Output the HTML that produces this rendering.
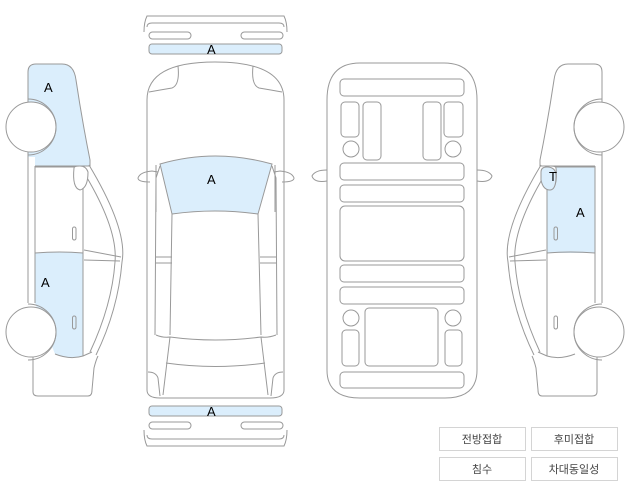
<!DOCTYPE html>
<html><head><meta charset="utf-8"><style>
html,body{margin:0;padding:0;background:#fff;width:630px;height:498px;overflow:hidden}
svg{display:block}
text{font-family:"Liberation Sans",sans-serif;font-size:13px;fill:#000}
.k{font-family:"Liberation Sans","Noto Sans CJK KR",sans-serif;font-size:11px;fill:#444}
</style></head><body>
<svg width="630" height="498" viewBox="0 0 630 498" xmlns="http://www.w3.org/2000/svg">
<defs>
<g id="side" fill="none" stroke="#999" stroke-width="1">
  <!-- front panel outline -->
  <path d="M28,157 L28,72 Q28,64 36,64 L62,64 Q74,64 76,80 Q82,120 90,160 L90,166 L35,166"/>
  <!-- wheels -->
  <circle cx="31" cy="127" r="25" fill="#fff"/>
  <path d="M28,99 A28,28 0 0 1 28,155"/>
  <circle cx="31" cy="332" r="25" fill="#fff"/>
  <path d="M28,304 A28,28 0 0 1 28,360"/>
  <!-- door strip -->
  <path d="M28,157 L28,303 M35,166 L35,303"/>
  <!-- middle panels -->
  <path d="M35,167 L83,167 L83,356 M35,253 Q60,251 83,253"/>
  <path d="M55,354 Q70,360 83,356 L92,352"/>
  <!-- pillar curves -->
  <path d="M89,165 Q128,230 122,262 Q118,310 96,355"/>
  <path d="M86,176 Q118,230 115,262 Q112,305 90,352"/>
  <path d="M84,250 L121,257 M84,260 L120,261"/>
  <!-- mirror -->
  <path d="M74,168 Q72,188 80,190 Q88,188 88,172 Q86,166 80,166 Q74,166 74,168 Z" fill="#fff"/>
  <!-- handles -->
  <rect x="72.5" y="227" width="3.5" height="13" rx="1.7"/>
  <rect x="72.5" y="316" width="3.5" height="13" rx="1.7"/>
  <!-- rear panel -->
  <path d="M33,357 L33,392 Q33,396 38,396 L88,396 Q92,396 92,390 L94,368 Q96,360 98,356"/>
</g>
</defs>

<!-- LEFT SIDE fills -->
<path d="M28,157 L28,72 Q28,64 36,64 L62,64 Q74,64 76,80 Q82,120 90,160 L90,166 L35,166 L35,157 Z" fill="#dbeefc"/>
<path d="M35,253 Q60,251 83,253 L83,356 Q70,360 55,354 L35,303 Z" fill="#dbeefc"/>
<use href="#side"/>
<text x="44" y="92">A</text>
<text x="41" y="287">A</text>

<!-- RIGHT SIDE fills -->
<rect x="547" y="167" width="48" height="86" fill="#dbeefc"/>
<g transform="translate(630,0) scale(-1,1)"><use href="#side"/></g>
<path d="M541,172 Q541,167 547,167 Q556,167 556,176 Q556,190 550,190 Q543,190 541,180 Z" fill="#dbeefc" stroke="#999"/>
<text x="549" y="181">T</text>
<text x="576" y="217">A</text>

<!-- TOP BUMPER -->
<g fill="none" stroke="#999">
<path d="M144,32 Q144,22 147,16 L284,16 Q287,22 287,32 M147,27 Q147,23 152,23 L279,23 Q284,23 284,27"/>
<rect x="149" y="32" width="42" height="7" rx="3.5"/>
<rect x="241" y="32" width="42" height="7" rx="3.5"/>
<rect x="149" y="44" width="133" height="10" rx="3" fill="#dbeefc"/>
</g>
<text x="207" y="54">A</text>

<!-- BOTTOM BUMPER -->
<g fill="none" stroke="#999">
<rect x="149" y="406" width="133" height="10" rx="3" fill="#dbeefc"/>
<rect x="149" y="422" width="42" height="7" rx="3.5"/>
<rect x="241" y="422" width="42" height="7" rx="3.5"/>
<path d="M144,430 Q144,440 147,446 L284,446 Q287,440 287,430 M147,435 Q147,439 152,439 L279,439 Q284,439 284,435"/>
</g>
<text x="207" y="416">A</text>

<!-- TOP VIEW CAR -->
<g fill="none" stroke="#999">
<path d="M147,100 Q147,62 215,62 Q284,62 284,100 L284,390 Q284,398 270,398 L160,398 Q147,398 147,390 Z"/>
<path d="M178,66 Q180,85 172,88 Q160,90 149,92 M253,66 Q251,85 259,88 Q271,90 282,92"/>
<path d="M160,164 Q215,148 272,164 L258,214 Q215,208 172,214 Z" fill="#dbeefc"/>
<path d="M156,165 L156,212 M275,165 L275,212"/>
<path d="M160,166 L156,178 L155,335 M272,166 L276,178 L277,335"/>
<path d="M172,214 L170,335 M258,214 L261,335"/>
<path d="M150,182 Q138,182 138,178 Q140,172 152,171 L158,172 M282,182 Q294,182 294,178 Q292,172 280,171 L274,172"/>
<path d="M155,257 L172,257 M155,263 L172,263 M260,257 L277,257 M260,263 L277,263"/>
<path d="M156,335 Q163,338 170,337 Q215,343 261,337 Q268,338 276,335"/>
<path d="M170,337 L163,395 M261,337 L268,395 M166,363 Q215,370 265,363"/>
<path d="M148,372 Q156,372 158,378 L160,396 M283,372 Q275,372 273,378 L271,396"/>
</g>
<text x="207" y="184">A</text>

<!-- UNDERSIDE VIEW -->
<g fill="none" stroke="#999">
<path d="M327,100 Q327,63 360,63 L444,63 Q477,63 477,100 L477,370 Q477,398 445,398 L360,398 Q327,398 327,370 Z"/>
<path d="M327,170 Q315,170 312,176 Q314,183 327,181 M477,170 Q489,170 492,176 Q490,183 477,181"/>
<rect x="340" y="79" width="124" height="17" rx="4"/>
<rect x="341" y="102" width="18" height="35" rx="4"/>
<circle cx="351" cy="149" r="8"/>
<rect x="363" y="102" width="18" height="58" rx="4"/>
<rect x="423" y="102" width="18" height="58" rx="4"/>
<rect x="444" y="102" width="19" height="35" rx="4"/>
<circle cx="453" cy="149" r="8"/>
<rect x="340" y="163" width="124" height="17" rx="4"/>
<rect x="340" y="185" width="124" height="17" rx="4"/>
<rect x="340" y="206" width="124" height="55" rx="5"/>
<rect x="340" y="265" width="124" height="17" rx="4"/>
<rect x="340" y="287" width="124" height="17" rx="4"/>
<circle cx="351" cy="318" r="8"/>
<circle cx="453" cy="318" r="8"/>
<rect x="342" y="330" width="17" height="36" rx="4"/>
<rect x="445" y="330" width="17" height="36" rx="4"/>
<rect x="365" y="308" width="73" height="58" rx="4"/>
<rect x="340" y="372" width="124" height="16" rx="4"/>
</g>

<!-- BUTTONS -->
<g fill="#fff" stroke="#d4d4d4">
<rect x="439.5" y="427.5" width="86" height="23"/>
<rect x="531.5" y="427.5" width="86" height="23"/>
<rect x="439.5" y="457.5" width="86" height="23"/>
<rect x="531.5" y="457.5" width="86" height="23"/>
</g>
<text class="k" x="482" y="443" text-anchor="middle">전방접합</text>
<text class="k" x="574" y="443" text-anchor="middle">후미접합</text>
<text class="k" x="482" y="473" text-anchor="middle">침수</text>
<text class="k" x="574" y="473" text-anchor="middle">차대동일성</text>
</svg>
</body></html>
